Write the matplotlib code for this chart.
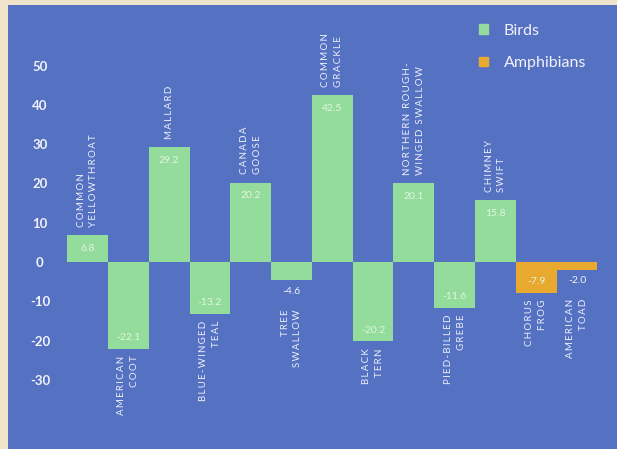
import matplotlib
matplotlib.use("Agg")
import matplotlib.pyplot as plt
from matplotlib.patches import Patch

# data
species = ["Common\nYellowthroat", "American\nCoot", "Mallard", "Blue-winged\nTeal",
           "Canada\nGoose", "Tree\nSwallow", "Common\nGrackle", "Black\nTern",
           "Northern Rough-\nwinged Swallow", "Pied-Billed\nGrebe", "Chimney\nSwift",
           "Chorus\nFrog", "American\nToad"]
values = [6.8, -22.1, 29.2, -13.2, 20.2, -4.6, 42.5, -20.2, 20.1, -11.6, 15.8, -7.9, -2.0]
group = ["Birds"] * 11 + ["Amphibians"] * 2
yticks = [-30, -20, -10, 0, 10, 20, 30, 40, 50]

BLUE = "#5571c2"
BEIGE = "#efe4c9"
COLORS = {"Birds": "#93dc9c", "Amphibians": "#e9a92f"}
FONT = ["Lato", "DejaVu Sans"]


def spaced(name):
    # uppercase with a thin space between letters, to mimic the tracked small caps
    return "\n".join("\u2009".join(line.upper()) for line in name.split("\n"))


fig = plt.figure(figsize=(6.17, 4.49), dpi=100, facecolor=BEIGE)
# blue panel: px 8..617 horizontally, 5..449 vertically
ax = fig.add_axes([8 / 617, 0, 609 / 617, 444 / 449])
ax.set_facecolor(BLUE)
for s in ax.spines.values():
    s.set_visible(False)

xs = list(range(len(values)))
ax.bar(xs, values, width=1.0, color=[COLORS[g] for g in group], zorder=2)
ax.set_xlim(-1.95, 12.98)
ax.set_ylim(-47.6, 65.4)

ax.set_xticks([])
ax.set_yticks(yticks)
ax.set_yticklabels([str(t) for t in yticks], fontsize=9.5, fontweight="bold",
                   color="#f2f2fa", family=FONT)
ax.tick_params(axis="y", length=0, pad=-23)
for lbl in ax.get_yticklabels():
    lbl.set_ha("center")

lab_kw = dict(ha="center", rotation=90, fontsize=7.0, color="#eef0fa", family=FONT,
              linespacing=1.55, textcoords="offset points")
for x, v, name in zip(xs, values, species):
    small = abs(v) < 6
    if v > 0:
        ax.annotate(f"{v:.1f}", (x, v), xytext=(0, -9.5), textcoords="offset points",
                    ha="center", va="center", fontsize=7.5, color="#e3f5df", family=FONT)
        ax.annotate(spaced(name), (x, v), xytext=(0, 6), va="bottom",
                    multialignment="left", **lab_kw)
    else:
        off = -8 if small else 8
        col = "#f2f2fa" if small else "#e3f5df"
        ax.annotate(f"{v:.1f}", (x, v), xytext=(0, off), textcoords="offset points",
                    ha="center", va="center", fontsize=7.5, color=col, family=FONT)
        ax.annotate(spaced(name), (x, v), xytext=(0, -21 if small else -5), va="top",
                    multialignment="right", **lab_kw)

handles = [Patch(color=COLORS[g]) for g in ["Birds", "Amphibians"]]
leg = ax.legend(handles, ["Birds", "Amphibians"], loc="upper left",
                bbox_to_anchor=(0.75, 0.99), frameon=False, handlelength=0.55,
                handleheight=0.55, handletextpad=1.0, labelspacing=1.15,
                prop={"family": FONT, "size": 11.5}, labelcolor="#f2f2fa")

fig.savefig("out.png", dpi=100, facecolor=BEIGE)
